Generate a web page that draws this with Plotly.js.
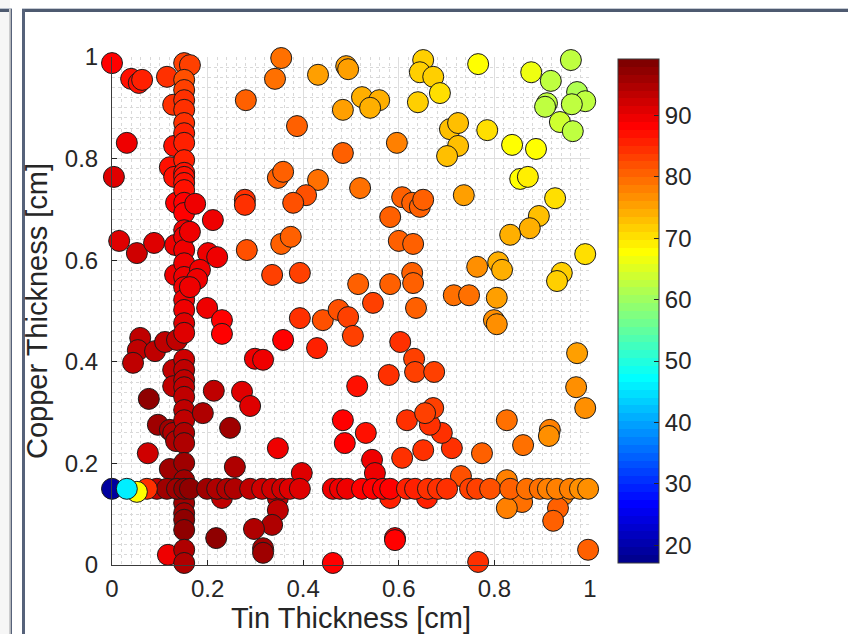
<!DOCTYPE html>
<html>
<head>
<meta charset="utf-8">
<script src="https://cdn.plot.ly/plotly-3.0.1.min.js"></script>
<style>
  html, body { margin:0; padding:0; background:#ffffff; }
  #wrap { position:relative; width:848px; height:634px; overflow:hidden; background:#ffffff; }
  .chrome { position:absolute; }
  #plot { position:absolute; left:0; top:0; width:848px; height:634px; }
</style>
</head>
<body>
<div id="wrap">
  <div class="chrome" style="left:0;top:0;width:10px;height:634px;background:#f6f6f6;"></div>
  <div class="chrome" style="left:0;top:8px;width:12px;height:1px;background:#b9c0cc;"></div>
  <div class="chrome" style="left:0;top:9px;width:12px;height:3px;background:#4e5a70;"></div>
  <div class="chrome" style="left:9px;top:9px;width:3px;height:625px;background:linear-gradient(to right,#d8d8d8,#8a8f98);"></div>
  <div class="chrome" style="left:11px;top:9px;width:1px;height:625px;background:#56627a;"></div>
  <div class="chrome" style="left:22px;top:8px;width:826px;height:1px;background:#c5cad3;"></div>
  <div class="chrome" style="left:22px;top:9px;width:826px;height:3px;background:#4e5a70;"></div>
  <div class="chrome" style="left:22px;top:9px;width:3px;height:625px;background:#56627a;"></div>
  <div id="plot"></div>
</div>
<script>
// Tin thickness (x), Copper thickness (y), colour value (c)
const tinThickness = [
  // left region
  0.000, 0.040, 0.056, 0.063, 0.115, 0.031, 0.004, 0.015, 0.052, 0.088, 0.132,
  0.059, 0.054, 0.044, 0.090, 0.111, 0.136, 0.077, 0.096, 0.121, 0.075, 0.121, 0.117,
  0.128, 0.130, 0.121, 0.130, 0.134, 0.132, 0.128, 0.128, 0.128, 0.134,
  // vertical column near 0.15
  0.151, 0.163, 0.151, 0.151, 0.151, 0.151, 0.151, 0.151, 0.151, 0.151, 0.151,
  0.151, 0.151, 0.151, 0.151, 0.151, 0.151, 0.151, 0.151, 0.151, 0.151, 0.151,
  0.151, 0.151, 0.151, 0.151, 0.151, 0.151, 0.151, 0.151, 0.151, 0.151, 0.151,
  0.151, 0.151, 0.151, 0.151, 0.151, 0.151, 0.151, 0.151, 0.151, 0.151, 0.151,
  // middle-left
  0.174, 0.211, 0.163, 0.201, 0.220, 0.184, 0.178, 0.163, 0.199, 0.230, 0.230,
  0.213, 0.272, 0.289, 0.190, 0.247, 0.257, 0.230, 0.218, 0.347, 0.397, 0.347,
  0.347, 0.335, 0.297, 0.316, 0.316, 0.282, 0.354, 0.374, 0.335, 0.393, 0.393,
  0.441, 0.474, 0.494, 0.504, 0.358, 0.429, 0.299, 0.316, 0.483, 0.487, 0.531,
  0.513, 0.544, 0.550, 0.592, 0.592, 0.582, 0.659, 0.462, 0.766, 0.996,
  // middle-right
  0.607, 0.651, 0.711, 0.690, 0.665, 0.617, 0.672, 0.655, 0.632, 0.634, 0.674,
  0.579, 0.603, 0.515, 0.582, 0.546, 0.636, 0.628, 0.630, 0.600, 0.630, 0.519,
  0.607, 0.628, 0.644, 0.651, 0.582, 0.736, 0.596, 0.347, 0.358, 0.431, 0.406,
  0.379, 0.278, 0.278, 0.280, 0.341, 0.354, 0.387, 0.431, 0.490, 0.494, 0.483,
  0.483, 0.523, 0.559, 0.540, 0.651, 0.644, 0.672, 0.686, 0.640, 0.766, 0.877,
  0.960, 0.918, 0.973, 0.990, 0.962, 0.910, 0.906, 0.937, 0.964, 0.707, 0.724,
  0.724, 0.701, 0.785, 0.837, 0.887, 0.854, 0.870, 0.927, 0.893, 0.874, 0.833,
  0.990, 0.941, 0.931, 0.808, 0.816, 0.764, 0.715, 0.747, 0.805, 0.799, 0.805,
  0.973, 0.971, 0.990, 0.826, 0.916, 0.774, 0.860, 0.914, 0.730, 0.826, 0.860,
  0.858, 0.944, 0.826, 0.933, 0.923,
  // row at 0.15
  0.094, 0.115, 0.136, 0.151, 0.163, 0.199, 0.220, 0.241, 0.257, 0.289, 0.314,
  0.335, 0.356, 0.372, 0.393, 0.462, 0.477, 0.492, 0.523, 0.546, 0.567, 0.582,
  0.617, 0.634, 0.661, 0.682, 0.701, 0.749, 0.764, 0.791, 0.833, 0.868, 0.895,
  0.912, 0.931, 0.958, 0.979, 0.996,
  0.073, 0.052, 0.000, 0.031
];
const copperThickness = [
  0.988, 0.957, 0.949, 0.955, 0.961, 0.831, 0.764, 0.638, 0.614, 0.634, 0.630,
  0.447, 0.423, 0.398, 0.421, 0.439, 0.443, 0.327, 0.276, 0.266, 0.220, 0.189, 0.020,
  0.906, 0.825, 0.783, 0.764, 0.713, 0.571, 0.384, 0.352, 0.260, 0.244,
  0.988, 0.984, 0.955, 0.935, 0.915, 0.896, 0.870, 0.850, 0.831, 0.797, 0.772,
  0.764, 0.752, 0.738, 0.713, 0.693, 0.659, 0.646, 0.620, 0.594, 0.567, 0.547,
  0.522, 0.502, 0.476, 0.457, 0.404, 0.384, 0.364, 0.350, 0.331, 0.305, 0.285,
  0.260, 0.240, 0.201, 0.167, 0.142, 0.122, 0.102, 0.089, 0.069, 0.030, 0.004,
  0.711, 0.679, 0.656, 0.614, 0.606, 0.581, 0.563, 0.547, 0.506, 0.482, 0.455,
  0.343, 0.341, 0.313, 0.299, 0.270, 0.193, 0.132, 0.053, 0.230, 0.181, 0.132,
  0.108, 0.079, 0.071, 0.033, 0.024, 0.620, 0.632, 0.646, 0.571, 0.575, 0.486,
  0.482, 0.502, 0.488, 0.451, 0.443, 0.427, 0.406, 0.404, 0.285, 0.240, 0.260,
  0.352, 0.207, 0.181, 0.053, 0.049, 0.132, 0.132, 0.004, 0.006, 0.030,
  0.211, 0.226, 0.230, 0.260, 0.276, 0.285, 0.309, 0.299, 0.406, 0.380, 0.380,
  0.374, 0.439, 0.553, 0.553, 0.516, 0.506, 0.575, 0.555, 0.638, 0.632, 0.742,
  0.724, 0.713, 0.705, 0.719, 0.685, 0.728, 0.831, 0.762, 0.774, 0.758, 0.728,
  0.713, 0.719, 0.709, 0.915, 0.957, 0.998, 0.864, 0.965, 0.982, 0.976, 0.896,
  0.811, 0.921, 0.915, 0.900, 0.994, 0.970, 0.961, 0.929, 0.911, 0.986, 0.970,
  0.994, 0.953, 0.931, 0.913, 0.907, 0.909, 0.902, 0.872, 0.854, 0.858, 0.870,
  0.825, 0.805, 0.856, 0.827, 0.819, 0.760, 0.764, 0.722, 0.687, 0.663, 0.650,
  0.612, 0.575, 0.559, 0.596, 0.581, 0.587, 0.531, 0.531, 0.526, 0.482, 0.474,
  0.417, 0.350, 0.309, 0.285, 0.266, 0.220, 0.236, 0.254, 0.175, 0.167, 0.142,
  0.124, 0.138, 0.112, 0.112, 0.087,
  0.150, 0.150, 0.150, 0.150, 0.150, 0.150, 0.150, 0.150, 0.150, 0.150, 0.150,
  0.150, 0.150, 0.150, 0.150, 0.150, 0.150, 0.150, 0.150, 0.150, 0.150, 0.150,
  0.150, 0.150, 0.150, 0.150, 0.150, 0.150, 0.150, 0.150, 0.150, 0.150, 0.150,
  0.150, 0.150, 0.150, 0.150, 0.150,
  0.150, 0.144, 0.150, 0.150
];
const colourValue = [
  88, 87, 87, 86, 84, 89, 91, 91, 92, 91, 89,
  93, 93, 94, 93, 93, 93, 97, 96, 96, 92, 96, 89,
  84, 87, 87, 87, 88, 90, 93, 93, 95, 95,
  83, 83, 82, 83, 84, 84, 85, 86, 86, 86, 87,
  87, 87, 87, 88, 88, 89, 89, 89, 89, 90, 90,
  90, 90, 91, 91, 92, 93, 93, 93, 94, 94, 94,
  95, 95, 96, 96, 96, 96, 96, 97, 97, 95, 95,
  89, 89, 89, 89, 89, 90, 90, 90, 90, 88, 88,
  93, 91, 91, 95, 96, 95, 94, 97, 90, 91, 93,
  93, 95, 95, 96, 96, 82, 80, 80, 83, 83, 85,
  82, 82, 83, 83, 88, 86, 89, 89, 88, 88, 87,
  87, 89, 89, 88, 88, 86, 86, 88, 84, 80,
  84, 84, 84, 84, 84, 85, 83, 83, 83, 83, 83,
  84, 84, 81, 81, 83, 81, 80, 80, 80, 80, 79,
  80, 80, 80, 80, 80, 76, 78, 80, 80, 79, 82,
  82, 85, 85, 80, 79, 79, 80, 76, 76, 76, 75,
  80, 74, 74, 74, 72, 72, 72, 70, 72, 68, 66,
  62, 63, 61, 62, 62, 63, 63, 64, 63, 73, 73,
  73, 73, 70, 68, 68, 68, 69, 70, 73, 74, 74,
  70, 72, 72, 74, 74, 77, 79, 79, 76, 77, 77,
  76, 77, 77, 79, 78, 81, 79, 77, 82, 78, 79,
  79, 78, 78, 81, 81,
  94, 96, 96, 97, 97, 96, 95, 95, 95, 93, 92,
  92, 92, 91, 91, 89, 89, 89, 88, 88, 88, 88,
  86, 86, 85, 85, 84, 83, 83, 82, 80, 79, 79,
  78, 78, 78, 77, 77,
  85, 68, 18.6, 46
];
const colourTicks = [20, 30, 40, 50, 60, 70, 80, 90];
const axisTicks = [0, 0.2, 0.4, 0.6, 0.8, 1];

// MATLAB jet(64) colormap, drawn as discrete bands
function jetColorscale(m) {
  const n = Math.ceil(m / 4);
  const u = [];
  for (let i = 1; i <= n; i++) u.push(i / n);
  for (let i = 1; i <= n - 1; i++) u.push(1);
  for (let i = n; i >= 1; i--) u.push(i / n);
  const base = Math.ceil(n / 2) - (m % 4 === 1 ? 1 : 0);
  let g = u.map((_, i) => base + i + 1);
  let r = g.map(v => v + n);
  let b = g.map(v => v - n);
  g = g.filter(v => v <= m); r = r.filter(v => v <= m); b = b.filter(v => v >= 1);
  const J = Array.from({length: m}, () => [0, 0, 0]);
  r.forEach((idx, i) => { J[idx - 1][0] = u[i]; });
  g.forEach((idx, i) => { J[idx - 1][1] = u[i]; });
  b.forEach((idx, i) => { J[idx - 1][2] = u[u.length - b.length + i]; });
  const cs = [];
  J.forEach((c, i) => {
    const col = 'rgb(' + c.map(v => Math.round(v * 255)).join(',') + ')';
    cs.push([i / m, col]);
    cs.push([(i + 1) / m, col]);
  });
  return cs;
}

const FONT = '"Liberation Sans", Arial, Helvetica, sans-serif';
const TXT = '#262626';

const trace = {
  type: 'scatter',
  mode: 'markers',
  x: tinThickness,
  y: copperThickness,
  cliponaxis: false,
  hoverinfo: 'skip',
  marker: {
    size: 21,
    color: colourValue,
    colorscale: jetColorscale(64),
    cmin: 17.1,
    cmax: 99.2,
    opacity: 1,
    line: { color: '#1a1a1a', width: 1 },
    showscale: true,
    colorbar: {
      x: 1.0586, xanchor: 'left', xpad: 0,
      y: 0.5, yanchor: 'middle', ypad: 0,
      len: 0.992, lenmode: 'fraction',
      thickness: 41, thicknessmode: 'pixels',
      outlinewidth: 1, outlinecolor: '#3a3a3a',
      tickvals: colourTicks,
      ticks: 'inside', ticklen: 5, tickcolor: TXT, tickwidth: 1,
      tickfont: { family: FONT, size: 24, color: TXT },
      bgcolor: 'rgba(0,0,0,0)', borderwidth: 0
    }
  }
};

const axisCommon = {
  range: [0, 1],
  tickvals: axisTicks,
  ticks: 'inside', ticklen: 5, tickcolor: TXT, tickwidth: 1,
  showline: true, linecolor: '#3a3a3a', linewidth: 1,
  zeroline: false, mirror: false,
  showgrid: true, gridcolor: '#dedede', gridwidth: 1,
  minor: { dtick: 0.02, showgrid: true, gridcolor: '#d9d9d9', griddash: 'dot', gridwidth: 1, ticks: '' },
  tickfont: { family: FONT, size: 24, color: TXT },
  fixedrange: true
};

const layout = {
  width: 848, height: 634,
  margin: { l: 112, r: 258, t: 57, b: 69, pad: 0 },
  paper_bgcolor: 'rgba(0,0,0,0)',
  plot_bgcolor: '#ffffff',
  showlegend: false,
  xaxis: Object.assign({}, axisCommon, {
    ticklabelstandoff: 2,
    title: { text: 'Tin Thickness [cm]', font: { family: FONT, size: 29, color: TXT }, standoff: 6 }
  }),
  yaxis: Object.assign({}, axisCommon, {
    ticklabelstandoff: 8,
    title: { text: 'Copper Thickness [cm]', font: { family: FONT, size: 29, color: TXT }, standoff: 8 }
  })
};

Plotly.newPlot('plot', [trace], layout, { displayModeBar: false, staticPlot: true });
</script>
</body>
</html>
